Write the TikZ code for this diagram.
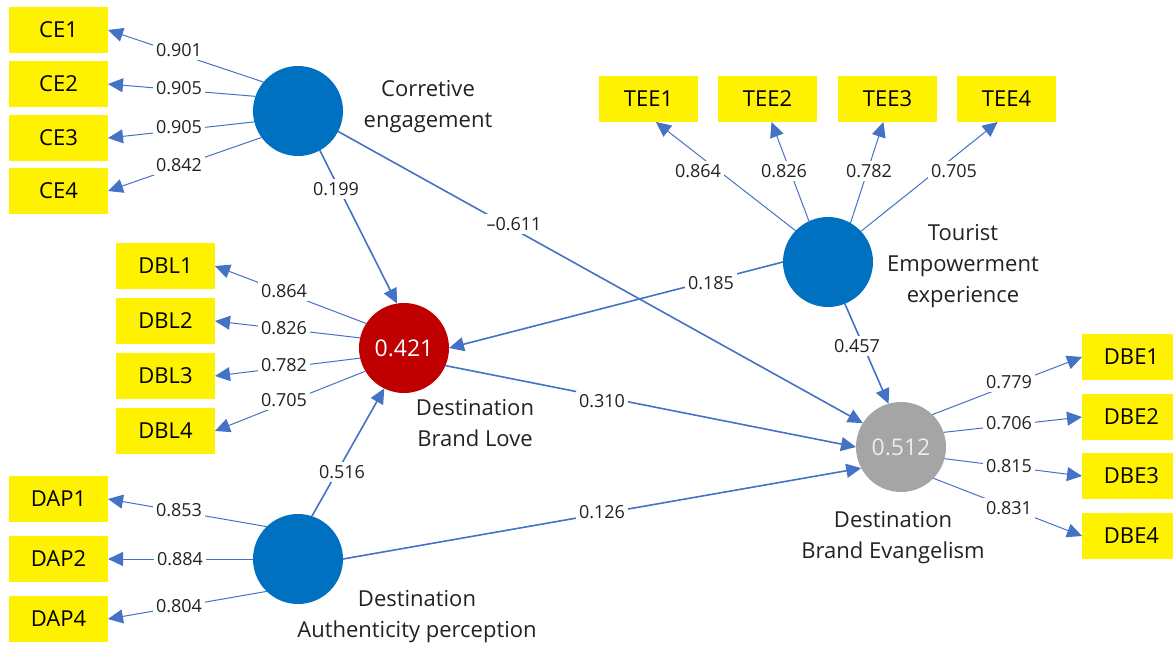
\documentclass[tikz,border=0pt]{standalone}
\usepackage{fontspec}
\setmainfont{Open Sans}
\usetikzlibrary{arrows.meta}
\definecolor{lineblue}{HTML}{4472C4}
\definecolor{lvblue}{HTML}{0070C0}
\definecolor{lvred}{HTML}{C00000}
\definecolor{lvgray}{HTML}{A5A5A5}
\definecolor{txt}{HTML}{222222}
\begin{document}
\begin{tikzpicture}[x=1pt,y=-1pt,
  ind/.style={fill=yellow, minimum width=99pt, minimum height=46pt, inner sep=0pt, outer sep=0pt, text=black, font=\fontsize{22}{26}\selectfont},
  lv/.style={circle, minimum size=90pt, inner sep=0pt, outer sep=0pt, text=white, font=\fontsize{23}{27}\selectfont},
  lab/.style={align=center, inner sep=0pt, text=txt, font=\fontsize{22}{31}\selectfont},
  num/.style={fill=white, inner sep=3pt, text=txt, font=\fontsize{18}{22}\selectfont},
  loadarrow/.style={draw=lineblue, line width=1pt, -{Triangle[length=15pt,width=14pt]}},
  patharrow/.style={draw=lineblue, line width=1.6pt, -{Triangle[length=15pt,width=14pt]}},
]
\useasboundingbox (0,0) rectangle (1173,646);

% latent variables
\node[lv, fill=lvblue] (ce) at (298,111) {};
\node[lv, fill=lvred] (dbl) at (404,348) {0.421};
\node[lv, fill=lvblue] (dap) at (298,559) {};
\node[lv, fill=lvblue] (tee) at (828,262) {};
\node[lv, fill=lvgray, text=white!93!black] (dbe) at (901,447) {0.512};

% indicators
\node[ind] (ce1) at (58.5,30) {CE1};
\node[ind] (ce2) at (58.5,84) {CE2};
\node[ind] (ce3) at (58.5,138) {CE3};
\node[ind] (ce4) at (58.5,191) {CE4};
\node[ind] (dbl1) at (165.5,266) {DBL1};
\node[ind] (dbl2) at (165.5,321) {DBL2};
\node[ind] (dbl3) at (165.5,376) {DBL3};
\node[ind] (dbl4) at (165.5,431) {DBL4};
\node[ind] (dap1) at (58.5,499) {DAP1};
\node[ind] (dap2) at (58.5,559) {DAP2};
\node[ind] (dap4) at (58.5,619) {DAP4};
\node[ind] (tee1) at (648.5,99) {TEE1};
\node[ind] (tee2) at (767.5,99) {TEE2};
\node[ind] (tee3) at (887.5,99) {TEE3};
\node[ind] (tee4) at (1006.5,99) {TEE4};
\node[ind] (dbe1) at (1131.5,357) {DBE1};
\node[ind] (dbe2) at (1131.5,417) {DBE2};
\node[ind] (dbe3) at (1131.5,476) {DBE3};
\node[ind] (dbe4) at (1131.5,536) {DBE4};

% construct labels
\node[lab] (lce) at (428,106.5) {Corretive\\engagement};
\node[lab] (ltee) at (963,266.5) {Tourist\\Empowerment\\experience};
\node[lab] (ldbl) at (475,423.5) {Destination\\Brand Love};
\node[lab] (ldbe) at (893,538) {Destination\\Brand Evangelism};
\node[lab] (ldap) at (417,617) {Destination\\Authenticity perception};

% loadings
\draw[loadarrow] (ce.140) -- (ce1.east);
\draw[loadarrow] (ce.161) -- (ce2.east);
\draw[loadarrow] (ce.194) -- (ce3.east);
\draw[loadarrow] (ce.216) -- (ce4.east);
\draw[loadarrow] (dbl.147) -- (dbl1.east);
\draw[loadarrow] (dbl.167) -- (dbl2.east);
\draw[loadarrow] (dbl.193) -- (dbl3.east);
\draw[loadarrow] (dbl.211) -- (dbl4.east);
\draw[loadarrow] (dap.134) -- (dap1.east);
\draw[loadarrow] (dap.180) -- (dap2.east);
\draw[loadarrow] (dap.226) -- (dap4.east);
\draw[loadarrow] (tee.136) -- (tee1.288);
\draw[loadarrow] (tee.115) -- (tee2.280);
\draw[loadarrow] (tee.60) -- (tee3.260);
\draw[loadarrow] (tee.43) -- (tee4.249);
\draw[loadarrow] (dbe.46) -- (dbe1.west);
\draw[loadarrow] (dbe.19) -- (dbe2.west);
\draw[loadarrow] (dbe.345) -- (dbe3.west);
\draw[loadarrow] (dbe.316) -- (dbe4.west);

% structural paths
\draw[patharrow] (ce.299) -- (dbl.99);
\draw[patharrow] (ce.333) -- (dbe.148);
\draw[patharrow] (tee.west) -- (dbl.east);
\draw[patharrow] (tee.292) -- (dbe.106);
\draw[patharrow] (dbl.337) -- (dbe.west);
\draw[patharrow] (dap.72) -- (dbl.244);
\draw[patharrow] (dap.east) -- (dbe.208);

% coefficient labels
\node[num] (n1) at (179,50) {0.901};
\node[num] (n2) at (179,88) {0.905};
\node[num] (n3) at (179,127) {0.905};
\node[num] (n4) at (179,165) {0.842};
\node[num] (n5) at (284,291) {0.864};
\node[num] (n6) at (284,328) {0.826};
\node[num] (n7) at (284,365) {0.782};
\node[num] (n8) at (284,400) {0.705};
\node[num] (n9) at (179,510) {0.853};
\node[num] (n10) at (180,559) {0.884};
\node[num] (n11) at (179,606) {0.804};
\node[num] (n12) at (698,171) {0.864};
\node[num] (n13) at (784,171) {0.826};
\node[num] (n14) at (869,171) {0.782};
\node[num] (n15) at (954,171) {0.705};
\node[num] (n16) at (1009,382) {0.779};
\node[num] (n17) at (1009,423) {0.706};
\node[num] (n18) at (1009,466) {0.815};
\node[num] (n19) at (1009,508) {0.831};
\node[num] (n20) at (336,189) {0.199};
\node[num] (n21) at (514,224) {\textendash0.611};
\node[num] (n22) at (711,283) {0.185};
\node[num] (n23) at (857,346) {0.457};
\node[num] (n24) at (602,401) {0.310};
\node[num] (n25) at (342,472) {0.516};
\node[num] (n26) at (602,512) {0.126};
\end{tikzpicture}
\end{document}
